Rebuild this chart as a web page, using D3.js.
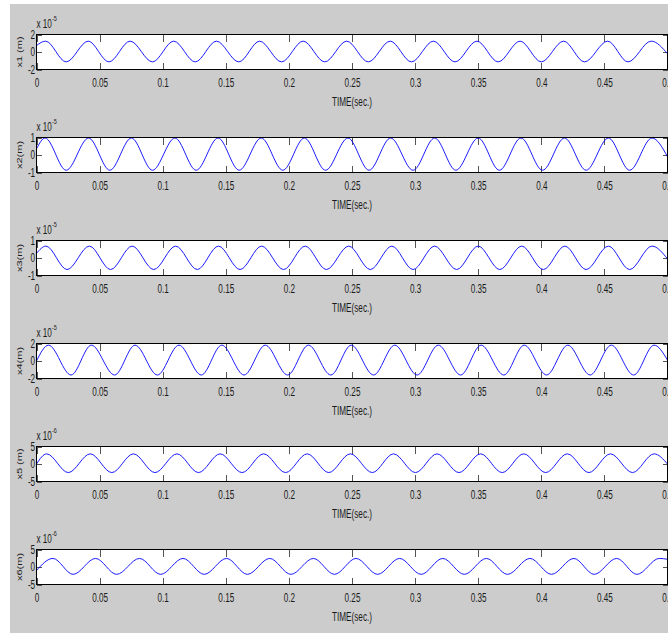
<!DOCTYPE html>
<html>
<head>
<meta charset="utf-8">
<script src="https://cdn.jsdelivr.net/npm/d3@7"></script>
<style>
  body { margin: 0; background: #fff; }
  svg { display: block; }
  text { font-family: Arial, "Liberation Sans", sans-serif; fill: #1a1a1a; }
</style>
</head>
<body>
<svg id="chart"></svg>
<script>
// tick labels / axis text
const timeTicks = [0, 0.05, 0.1, 0.15, 0.2, 0.25, 0.3, 0.35, 0.4, 0.45, 0.5];
const yLabels = ['x1 (m)', 'x2(m)', 'x3(m)', 'x4(m)', 'x5 (m)', 'x6(m)'];
const exponents = ['-5', '-5', '-5', '-5', '-6', '-6'];
const yTicks = [[-2, 0, 2], [-1, 0, 1], [-1, 0, 1], [-2, 0, 2], [-5, 0, 5], [-5, 0, 5]];

// [time, value]: start, peaks / troughs, end (value in axis units)
const x1 = [[0, 0.74], [0.0072, 1.24], [0.0235, -1.13], [0.0410, 1.24], [0.0574, -1.13], [0.0742, 1.24], [0.0919, -1.13], [0.1087, 1.24], [0.1258, -1.13], [0.1426, 1.24], [0.1603, -1.13], [0.1768, 1.24], [0.1942, -1.13], [0.2113, 1.24], [0.2284, -1.13], [0.2458, 1.24], [0.2629, -1.13], [0.2803, 1.24], [0.2971, -1.13], [0.3145, 1.24], [0.3316, -1.13], [0.3490, 1.24], [0.3658, -1.13], [0.3832, 1.24], [0.4000, -1.13], [0.4177, 1.24], [0.4342, -1.13], [0.4526, 1.24], [0.4687, -1.13], [0.4871, 1.24], [0.5, -0.2]];
const x2 = [[0, 0.35], [0.0068, 0.97], [0.0235, -0.87], [0.0413, 0.97], [0.0581, -0.87], [0.0752, 0.97], [0.0919, -0.87], [0.1097, 0.97], [0.1265, -0.87], [0.1439, 0.97], [0.1606, -0.87], [0.1781, 0.97], [0.1952, -0.87], [0.2123, 0.97], [0.2290, -0.87], [0.2468, 0.97], [0.2635, -0.87], [0.2806, 0.97], [0.2984, -0.87], [0.3155, 0.97], [0.3323, -0.87], [0.3500, 0.97], [0.3668, -0.87], [0.3839, 0.97], [0.4010, -0.87], [0.4184, 0.97], [0.4355, -0.87], [0.4532, 0.97], [0.4700, -0.87], [0.4877, 0.97], [0.5, -0.1]];
const x3 = [[0, 0.27], [0.0075, 0.68], [0.0242, -0.66], [0.0419, 0.68], [0.0587, -0.66], [0.0758, 0.68], [0.0929, -0.66], [0.1103, 0.68], [0.1274, -0.66], [0.1442, 0.68], [0.1613, -0.66], [0.1784, 0.68], [0.1958, -0.66], [0.2129, 0.68], [0.2297, -0.66], [0.2474, 0.68], [0.2645, -0.66], [0.2816, 0.68], [0.2984, -0.66], [0.3155, 0.68], [0.3329, -0.66], [0.3500, 0.68], [0.3671, -0.66], [0.3845, 0.68], [0.4016, -0.66], [0.4187, 0.68], [0.4355, -0.66], [0.4532, 0.68], [0.4700, -0.66], [0.4877, 0.68], [0.5, -0.05]];
const x4 = [[0, 0.0], [0.0095, 1.81], [0.0274, -1.6], [0.0435, 1.81], [0.0619, -1.6], [0.0781, 1.81], [0.0958, -1.6], [0.1129, 1.81], [0.1306, -1.6], [0.1468, 1.81], [0.1645, -1.6], [0.1813, 1.81], [0.1990, -1.6], [0.2155, 1.81], [0.2332, -1.6], [0.2494, 1.81], [0.2671, -1.6], [0.2839, 1.81], [0.3016, -1.6], [0.3184, 1.81], [0.3361, -1.6], [0.3523, 1.81], [0.3703, -1.6], [0.3865, 1.81], [0.4042, -1.6], [0.4210, 1.81], [0.4387, -1.6], [0.4555, 1.81], [0.4732, -1.6], [0.4894, 1.81], [0.5, 0.1]];
const x5 = [[0, 0.0], [0.0080, 2.9], [0.0252, -2.45], [0.0426, 2.9], [0.0597, -2.45], [0.0768, 2.9], [0.0939, -2.45], [0.1113, 2.9], [0.1284, -2.45], [0.1455, 2.9], [0.1629, -2.45], [0.1800, 2.9], [0.1974, -2.45], [0.2145, 2.9], [0.2316, -2.45], [0.2487, 2.9], [0.2661, -2.45], [0.2829, 2.9], [0.3003, -2.45], [0.3174, 2.9], [0.3348, -2.45], [0.3519, 2.9], [0.3690, -2.45], [0.3861, 2.9], [0.4035, -2.45], [0.4206, 2.9], [0.4377, -2.45], [0.4548, 2.9], [0.4723, -2.45], [0.4894, 2.9], [0.5, 0.0]];
const x6 = [[0, -1.0], [0.0130, 2.45], [0.0290, -2.1], [0.0468, 2.45], [0.0635, -2.1], [0.0816, 2.45], [0.0984, -2.1], [0.1161, 2.45], [0.1329, -2.1], [0.1506, 2.45], [0.1671, -2.1], [0.1848, 2.45], [0.2016, -2.1], [0.2194, 2.45], [0.2361, -2.1], [0.2532, 2.45], [0.2703, -2.1], [0.2877, 2.45], [0.3048, -2.1], [0.3219, 2.45], [0.3390, -2.1], [0.3565, 2.45], [0.3732, -2.1], [0.3910, 2.45], [0.4081, -2.1], [0.4258, 2.45], [0.4419, -2.1], [0.4597, 2.45], [0.4758, -2.1], [0.4935, 2.45], [0.5, 2.2]];

const series = [x1, x2, x3, x4, x5, x6];

const W = 668, H = 637;
const left = 36, plotW = 631, plotH = 35, firstTop = 34, step = 103;
const squeeze = 0.68; // the source figure is squashed horizontally

const svg = d3.select('#chart').attr('width', W).attr('height', H);

// grey figure background
svg.append('rect')
  .attr('x', 10).attr('y', 4)
  .attr('width', W - 10).attr('height', 629)
  .attr('fill', '#cccccc');

const xScale = d3.scaleLinear().domain([0, 0.5]).range([0, plotW]);

const line = d3.line()
  .x(d => xScale(d[0]))
  .curve(d3.curveMonotoneX);

series.forEach((data, i) => {
  const top = firstTop + i * step;
  const ticks = yTicks[i];
  const yScale = d3.scaleLinear().domain([ticks[0], ticks[2]]).range([plotH, 0]);

  const g = svg.append('g').attr('transform', `translate(${left + 0.5},${top + 0.5})`);

  g.append('rect')
    .attr('width', plotW).attr('height', plotH)
    .attr('fill', '#fff');

  g.append('clipPath').attr('id', 'clip' + i)
    .append('rect').attr('x', -1).attr('y', -1).attr('width', plotW + 2).attr('height', plotH + 2);

  // bottom axis, ticks pointing inward
  const xAxis = g.append('g')
    .attr('transform', `translate(0,${plotH})`)
    .call(d3.axisBottom(xScale).tickValues(timeTicks).tickSize(-7).tickPadding(8.5)
      .tickFormat(d => String(d)));
  // top ticks
  const xAxisTop = g.append('g')
    .call(d3.axisTop(xScale).tickValues(timeTicks).tickSize(-7).tickFormat(''));
  // left / right ticks
  const yAxis = g.append('g')
    .call(d3.axisLeft(yScale).tickValues(ticks).tickSize(-5).tickPadding(2)
      .tickFormat(d => String(d)));
  const yAxisRight = g.append('g')
    .attr('transform', `translate(${plotW},0)`)
    .call(d3.axisRight(yScale).tickValues(ticks).tickSize(-5).tickFormat(''));

  [xAxis, xAxisTop, yAxis, yAxisRight].forEach(a => {
    a.select('.domain').remove();
    a.selectAll('line').attr('stroke', '#555').attr('shape-rendering', 'crispEdges');
  });
  [xAxis, yAxis].forEach(a => {
    a.attr('font-size', 12).attr('font-family', null);
    a.selectAll('text').attr('fill', '#1a1a1a')
      .attr('transform', `scale(${squeeze},1)`);
  });

  g.append('path')
    .datum(data.map(d => [d[0], d[1]]))
    .attr('clip-path', `url(#clip${i})`)
    .attr('fill', 'none')
    .attr('stroke', '#0000ff')
    .attr('stroke-width', 0.9)
    .attr('d', line.y(d => yScale(d[1])));

  // axes box
  g.append('rect')
    .attr('width', plotW).attr('height', plotH)
    .attr('fill', 'none').attr('stroke', '#000')
    .attr('shape-rendering', 'crispEdges');

  // exponent label
  g.append('text')
    .attr('transform', `translate(0,-6.5) scale(${squeeze},1)`)
    .attr('font-size', 12)
    .text('x 10');
  g.append('text')
    .attr('transform', `translate(15.5,-14) scale(${squeeze},1)`)
    .attr('font-size', 8)
    .text(exponents[i]);

  // y label
  g.append('text')
    .attr('transform', `translate(-15,${plotH / 2}) scale(0.7,1) rotate(-90)`)
    .attr('text-anchor', 'middle')
    .attr('font-size', 11)
    .text(yLabels[i]);

  // x label
  g.append('text')
    .attr('transform', `translate(${plotW / 2},${plotH + 36}) scale(${squeeze},1)`)
    .attr('text-anchor', 'middle')
    .attr('font-size', 12)
    .text('TIME(sec.)');
});
</script>
</body>
</html>
